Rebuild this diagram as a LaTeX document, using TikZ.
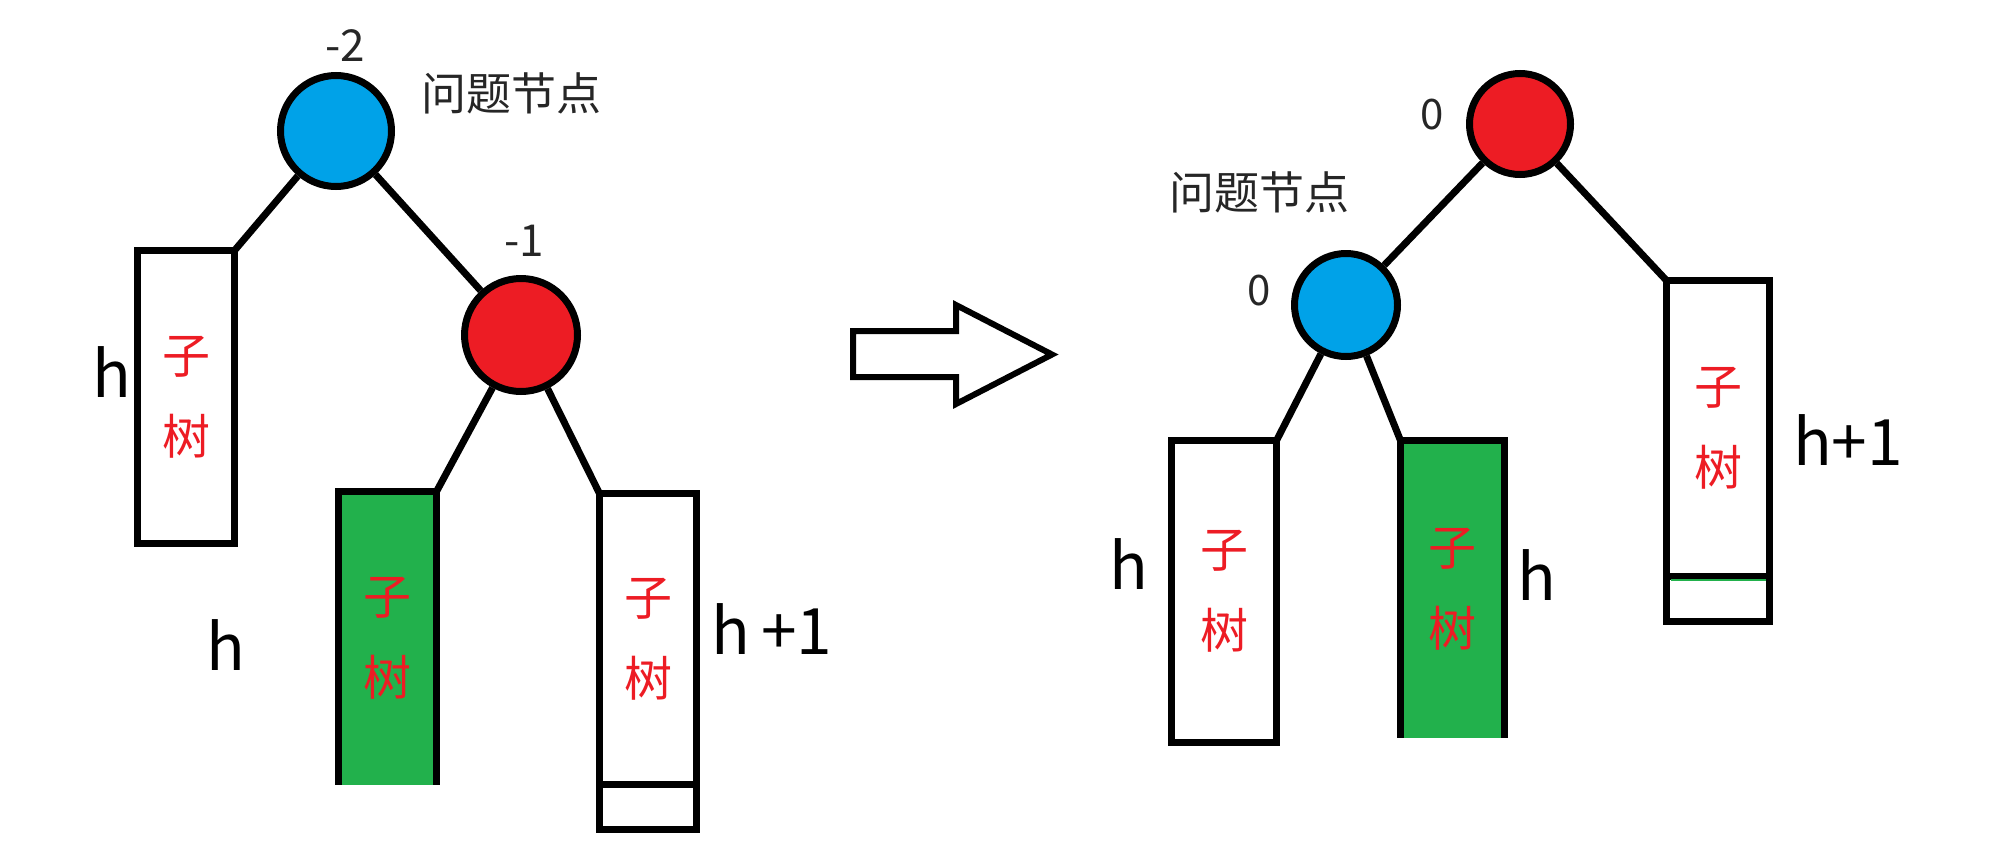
\documentclass[tikz,border=0pt]{standalone}
\usepackage{fontspec}
\setmainfont{Noto Sans CJK SC}
\definecolor{nodeblue}{HTML}{00A2E8}
\definecolor{nodered}{HTML}{ED1C24}
\definecolor{treegreen}{HTML}{22B14C}
\begin{document}
\begin{tikzpicture}[x=1pt,y=-1pt,line width=7pt,
  vtx/.style 2 args={circle,draw,fill=#1,minimum size=#2,inner sep=0pt},
  sub/.style 2 args={rectangle,draw,fill=white,minimum width=#1,minimum height=#2,inner sep=0pt,outer sep=0pt,align=center,text=nodered,font=\fontsize{48}{81}\selectfont},
  greensub/.style 2 args={sub={#1}{#2},draw=none,fill=treegreen},
  lbl/.style={font=\fontsize{#1}{#1}\selectfont,text=black!85,inner sep=0pt}]
\useasboundingbox (0,0) rectangle (2015,846);
% before rotation
\node[vtx={nodeblue}{111}] (lblue) at (336,131) {};
\node[vtx={nodered}{113}] (lred) at (521,335) {};
\node[sub={97}{293}] (lleft) at (186,397) {子\\树};
\node[greensub={98}{293}] (lgreen) at (387.5,638) {子\\树};
\draw (lgreen.south west) -- (lgreen.north west) -- (lgreen.north east) -- (lgreen.south east);
\node[sub={97}{291}] (lright) at (648,639) {子\\树};
\node[sub={97}{45},anchor=north] (lextra) at (lright.south) {};
\draw (lblue) -- (lleft.north east);
\draw (lblue) -- (lred);
\draw (lred) -- (lgreen.north east);
\draw (lred) -- (lright.north west);
\node[lbl=44] (lbf) at (345,46) {-2};
\node[lbl=44] (lrf) at (524,241) {-1};
\node[lbl=45] (lprob) at (511,93) {问题节点};
\node[lbl=64,text=black] (lh1) at (112,372) {h};
\node[lbl=64,text=black] (lh2) at (226,645) {h};
\node[lbl=64,text=black] (lh3) at (772,629) {h\,+1};
% arrow
\draw[line width=6pt,line join=miter] (853,331) -- (956,331) -- (956,305) -- (1052,354.5)
  -- (956,404) -- (956,377) -- (853,377) -- cycle;
% after rotation
\node[vtx={nodered}{101}] (rred) at (1520,124) {};
\node[vtx={nodeblue}{103}] (rblue) at (1346,305) {};
\node[sub={105}{302}] (rleft) at (1224,591.5) {子\\树};
\node[greensub={104}{297}] (rgreen) at (1452.5,589) {子\\树};
\draw (rgreen.south west) -- (rgreen.north west) -- (rgreen.north east) -- (rgreen.south east);
\node[sub={103}{296}] (rright) at (1718,428.5) {子\\树};
\node[sub={103}{45},anchor=north] (rextra) at (rright.south) {};
\draw[treegreen,line width=2pt] ([xshift=4pt,yshift=-3pt]rright.south west) -- ([xshift=-4pt,yshift=-3pt]rright.south east);
\draw (rred) -- (rblue);
\draw (rred) -- (rright.north west);
\draw (rblue) -- (rleft.north east);
\draw (rblue) -- (rgreen.north west);
\node[lbl=42] (rrf) at (1432,115) {0};
\node[lbl=42] (rbf) at (1259,291) {0};
\node[lbl=45] (rprob) at (1259,192) {问题节点};
\node[lbl=64,text=black] (rh1) at (1129,564) {h};
\node[lbl=64,text=black] (rh2) at (1537,575) {h};
\node[lbl=64,text=black] (rh3) at (1848,440) {h+1};
\end{tikzpicture}
\end{document}
